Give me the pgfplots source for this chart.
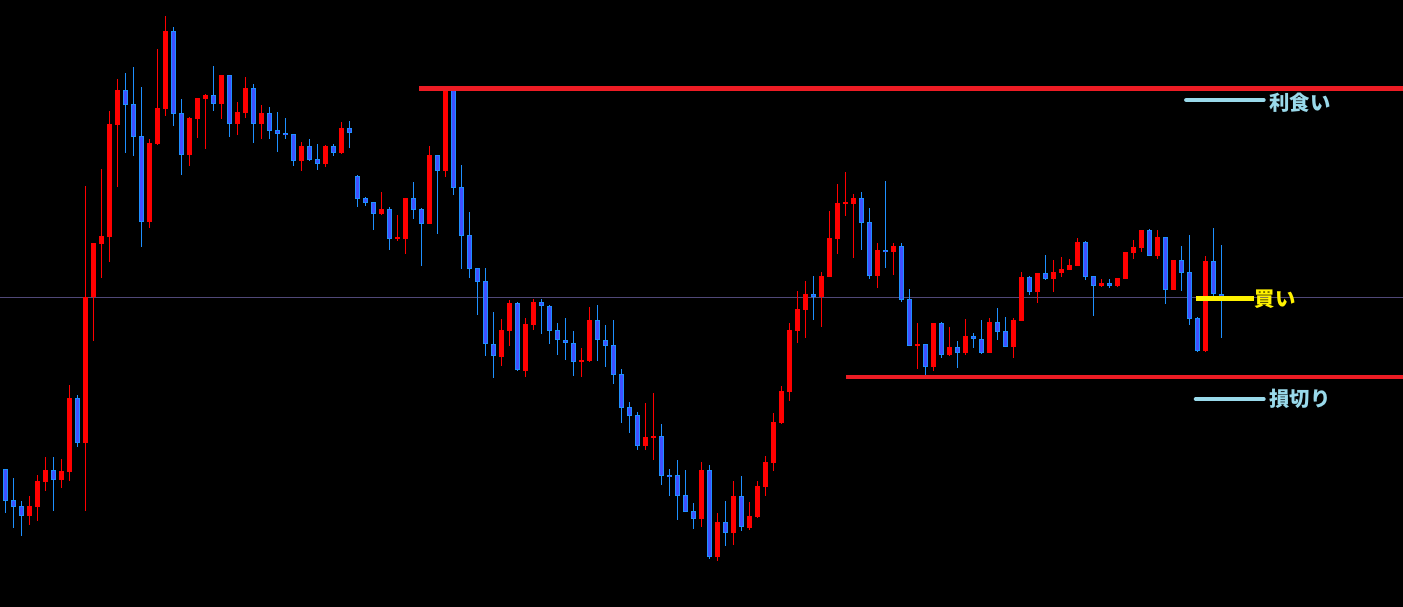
\documentclass[border=0pt]{standalone}
\usepackage{pgfplots}
\usepackage{pgfplotstable}
\pgfplotsset{compat=1.18}
\usepackage{fontspec}
\newfontfamily\jp{Noto Sans CJK JP}

\definecolor{cred}{RGB}{255,0,0}
\definecolor{bwick}{RGB}{30,144,255}
\definecolor{bfill}{RGB}{64,80,255}
\definecolor{lred}{RGB}{237,28,36}
\definecolor{lblue}{RGB}{153,217,234}
\definecolor{lyel}{RGB}{255,242,0}
\definecolor{midline}{RGB}{80,72,120}

% n = bar index, o/h/l/c in screen units (down is larger)
\pgfplotstableread{
n o h l c
0 469 469 513 501
1 500 478 528 507
2 506 501 536 516
3 516 496 525 506
4 507 475 521 481
5 482 457 491 470
6 470 457 511 480
7 480 459 488 471
8 472 385 481 398
9 398 395 447 443
10 443 186 511 297
11 297 243 341 243
12 244 169 278 236
13 237 111 262 124
14 125 79 187 90
15 90 73 153 105
16 104 67 156 137
17 136 87 247 222
18 222 139 228 143
19 144 49 145 108
20 109 16 116 31
21 31 27 126 114
22 113 99 175 155
23 155 117 166 118
24 119 98 138 98
25 99 94 149 95
26 95 66 111 104
27 104 75 119 75
28 75 75 137 124
29 124 102 135 112
30 113 77 118 88
31 88 84 143 124
32 124 105 139 113
33 113 107 139 131
34 130 112 152 134
35 133 118 139 135
36 134 134 166 161
37 161 142 171 146
38 146 139 161 160
39 159 144 170 164
40 164 145 167 146
41 146 144 156 153
42 153 122 154 128
43 128 121 148 133
44 176 175 207 199
45 198 197 206 203
46 202 202 230 214
47 214 192 215 209
48 209 207 250 239
49 239 215 241 238
50 239 198 254 198
51 198 182 219 210
52 209 208 266 224
53 224 146 224 155
54 155 155 234 171
55 171 87 177 90
56 90 88 195 188
57 187 165 269 236
58 235 212 278 269
59 268 268 315 282
60 281 268 356 344
61 344 312 378 356
62 357 319 366 330
63 331 300 346 303
64 303 302 371 370
65 371 318 377 324
66 325 299 330 302
67 302 299 334 306
68 306 305 344 331
69 330 323 355 340
70 340 318 360 343
71 343 331 376 362
72 362 348 377 360
73 361 307 362 320
74 320 305 361 340
75 340 325 367 346
76 345 320 384 375
77 374 369 423 408
78 407 402 433 416
79 415 412 450 446
80 446 403 450 437
81 438 393 460 436
82 436 424 485 476
83 475 469 496 477
84 475 460 520 496
85 495 470 512 512
86 511 503 529 519
87 519 462 527 470
88 470 465 559 557
89 557 513 561 522
90 522 501 546 533
91 533 481 545 496
92 496 476 531 527
93 528 502 530 516
94 517 481 518 486
95 487 456 496 462
96 463 413 471 422
97 423 386 424 391
98 392 323 401 330
99 331 291 343 309
100 310 281 338 294
101 294 276 320 297
102 297 272 327 276
103 277 211 277 238
104 239 184 254 203
105 204 172 216 202
106 204 194 258 198
107 198 192 250 223
108 222 208 279 276
109 276 243 288 250
110 250 181 268 252
111 252 243 275 246
112 246 243 302 300
113 299 289 346 346
114 346 323 369 344
115 344 344 375 367
116 367 323 371 323
117 323 322 358 355
118 355 327 356 347
119 347 341 368 353
120 353 319 355 336
121 336 333 348 339
122 339 320 354 353
123 353 318 353 322
124 322 308 340 332
125 331 317 347 347
126 347 318 358 320
127 321 272 321 277
128 277 276 295 292
129 292 273 303 273
130 273 255 280 279
131 279 260 292 272
132 273 257 277 269
133 270 259 270 265
134 266 238 266 242
135 242 241 280 277
136 276 276 316 286
137 286 279 287 283
138 283 279 288 286
139 286 278 287 278
140 279 252 279 252
141 253 240 259 247
142 248 230 252 230
143 230 229 256 256
144 256 230 259 237
145 237 237 304 290
146 290 260 290 260
147 260 246 291 273
148 272 235 325 319
149 318 317 352 351
150 351 256 352 261
151 261 228 296 294
152 294 245 338 296
}\candles

\begin{document}
\begin{tikzpicture}
\begin{axis}[
  scale only axis,
  width=14.03cm, height=6.07cm,
  xmin=-0.666, xmax=174.71,
  ymin=0, ymax=607, y dir=reverse,
  axis background/.style={fill=black},
  axis line style={draw=none},
  ticks=none,
  clip=true,
]
% thin middle line
\addplot[midline, line width=0.1mm] coordinates {(-0.666,297.3) (174.71,297.3)};

% wicks up
\addplot[draw=none, mark=none,
  restrict expr to domain={\thisrow{o}-\thisrow{c}}{0.5:1000},
  error bars/.cd, y dir=both, y explicit, error mark=none,
  error bar style={draw=cred, line width=0.1mm}]
  table[x=n, y expr=(\thisrow{h}+\thisrow{l})/2, y error expr=(\thisrow{l}-\thisrow{h})/2] {\candles};
% wicks down
\addplot[draw=none, mark=none,
  restrict expr to domain={\thisrow{o}-\thisrow{c}}{-1000:-0.5},
  error bars/.cd, y dir=both, y explicit, error mark=none,
  error bar style={draw=bwick, line width=0.1mm}]
  table[x=n, y expr=(\thisrow{h}+\thisrow{l})/2, y error expr=(\thisrow{l}-\thisrow{h})/2] {\candles};
% bodies up
\addplot[draw=none, mark=none,
  restrict expr to domain={\thisrow{o}-\thisrow{c}}{0.5:1000},
  error bars/.cd, y dir=both, y explicit, error mark=none,
  error bar style={draw=cred, line width=0.5mm}]
  table[x=n, y expr=(\thisrow{o}+\thisrow{c})/2, y error expr={max(abs(\thisrow{o}-\thisrow{c})/2,1)}] {\candles};
% bodies down: border then fill
\addplot[draw=none, mark=none,
  restrict expr to domain={\thisrow{o}-\thisrow{c}}{-1000:-0.5},
  error bars/.cd, y dir=both, y explicit, error mark=none,
  error bar style={draw=bwick, line width=0.5mm}]
  table[x=n, y expr=(\thisrow{o}+\thisrow{c})/2, y error expr={max(abs(\thisrow{o}-\thisrow{c})/2,1)}] {\candles};
\addplot[draw=none, mark=none,
  restrict expr to domain={\thisrow{o}-\thisrow{c}}{-1000:-0.5},
  error bars/.cd, y dir=both, y explicit, error mark=none,
  error bar style={draw=bfill, line width=0.3mm}]
  table[x=n, y expr=(\thisrow{o}+\thisrow{c})/2, y error expr={max(abs(\thisrow{o}-\thisrow{c})/2-1,0.3)}] {\candles};

% levels
\addplot[lred, line width=0.45mm] coordinates {(51.71,88.3) (174.71,88.3)};
\addplot[lred, line width=0.42mm] coordinates {(105.08,377) (174.71,377)};
\addplot[lblue, line width=0.4mm, line cap=round] coordinates {(147.6,100) (157.3,100)};
\addplot[lblue, line width=0.4mm, line cap=round] coordinates {(148.8,399) (157.3,399)};
\addplot[lyel, line width=0.45mm] coordinates {(148.85,298.3) (156.1,298.3)};

\node[anchor=west, inner sep=0, text=lblue, font={\jp\bfseries\fontsize{5.8pt}{6pt}\selectfont}] at (axis cs:157.9,103) {利食い};
\node[anchor=west, inner sep=0, text=lyel, font={\jp\bfseries\fontsize{5.8pt}{6pt}\selectfont}] at (axis cs:156.1,299) {買い};
\node[anchor=west, inner sep=0, text=lblue, font={\jp\bfseries\fontsize{5.8pt}{6pt}\selectfont}] at (axis cs:157.9,399) {損切り};
\end{axis}
\end{tikzpicture}
\end{document}
